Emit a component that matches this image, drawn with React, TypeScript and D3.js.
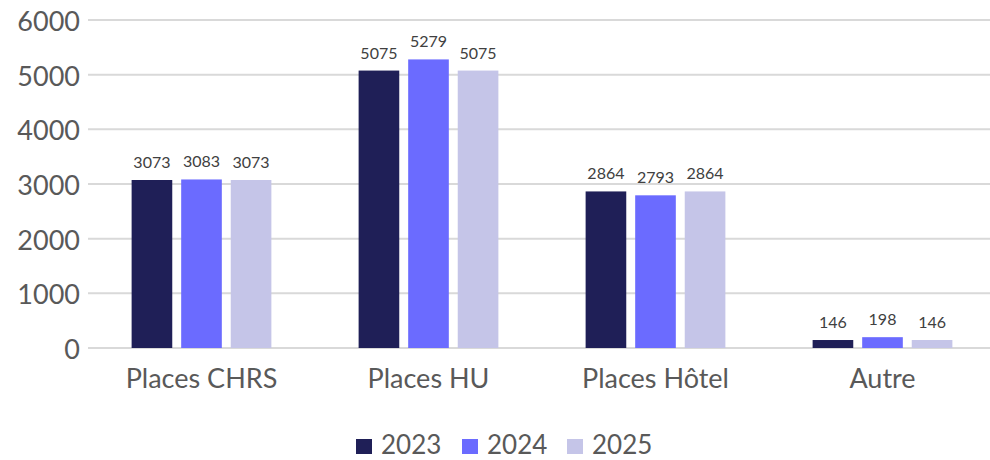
import { useEffect, useRef } from 'react';
import * as d3 from 'd3';

const categories = ['Places CHRS', 'Places HU', 'Places Hôtel', 'Autre'];
const years = ['2023', '2024', '2025'];
const values2023 = [3073, 5075, 2864, 146];
const values2024 = [3083, 5279, 2793, 198];
const values2025 = [3073, 5075, 2864, 146];
const yTicks = [0, 1000, 2000, 3000, 4000, 5000, 6000];
const colors = ['#1f1f57', '#6b6bff', '#c5c5e8'];

const W = 990;
const H = 460;
const FONT = 'Lato, "Open Sans", sans-serif';

export default function App() {
  const svgRef = useRef<SVGSVGElement>(null);

  useEffect(() => {
    const svg = d3.select(svgRef.current);
    svg.selectAll('*').remove();

    const m = { left: 88, right: -6, top: 20, bottom: 112 };
    const series = [values2023, values2024, values2025];

    const x = d3.scaleBand().domain(categories).range([m.left, W - m.right]);
    // 3 barres par groupe, ~41px de large, 9px d'écart
    const xi = d3.scaleBand().domain(years).range([0, x.bandwidth()]).paddingInner(0.18).paddingOuter(0.88);
    const y = d3.scaleLinear().domain([0, 6000]).range([H - m.bottom, m.top]);

    // grille
    svg.append('g')
      .selectAll('line')
      .data(yTicks)
      .join('line')
      .attr('x1', m.left).attr('x2', W)
      .attr('y1', d => y(d)).attr('y2', d => y(d))
      .attr('stroke', '#d9d9d9').attr('stroke-width', 2);

    // ticks Y
    svg.append('g')
      .selectAll('text')
      .data(yTicks)
      .join('text')
      .attr('x', m.left - 8).attr('y', d => y(d) + 11)
      .attr('text-anchor', 'end')
      .attr('font-family', FONT).attr('font-size', 27).attr('fill', '#595959')
      .text(d => d);

    // barres + valeurs
    const groups = svg.append('g')
      .selectAll('g')
      .data(categories)
      .join('g')
      .attr('transform', d => `translate(${x(d)},0)`);

    groups.each(function (_cat, ci) {
      const g = d3.select(this);
      years.forEach((yr, si) => {
        const v = series[si][ci];
        g.append('rect')
          .attr('x', xi(yr)!).attr('width', xi.bandwidth())
          .attr('y', y(v)).attr('height', y(0) - y(v))
          .attr('fill', colors[si]);
        g.append('text')
          .attr('x', xi(yr)! + xi.bandwidth() / 2).attr('y', y(v) - 12)
          .attr('text-anchor', 'middle')
          .attr('font-family', FONT).attr('font-size', 16).attr('fill', '#404040')
          .text(v);
      });
    });

    // labels X
    svg.append('g')
      .selectAll('text')
      .data(categories)
      .join('text')
      .attr('x', d => x(d)! + x.bandwidth() / 2).attr('y', 388)
      .attr('text-anchor', 'middle')
      .attr('font-family', FONT).attr('font-size', 27).attr('fill', '#595959')
      .text(d => d);

    // légende
    const leg = svg.append('g');
    const itemX = [356, 462, 567];
    years.forEach((yr, i) => {
      leg.append('rect')
        .attr('x', itemX[i]).attr('y', 439).attr('width', 16).attr('height', 15)
        .attr('fill', colors[i]);
      leg.append('text')
        .attr('x', itemX[i] + 25).attr('y', 454)
        .attr('font-family', FONT).attr('font-size', 26).attr('fill', '#595959')
        .text(yr);
    });
  }, []);

  return (
    <svg
      ref={svgRef}
      width={W}
      height={H}
      style={{ position: 'absolute', left: 0, top: 0, display: 'block' }}
    />
  );
}
